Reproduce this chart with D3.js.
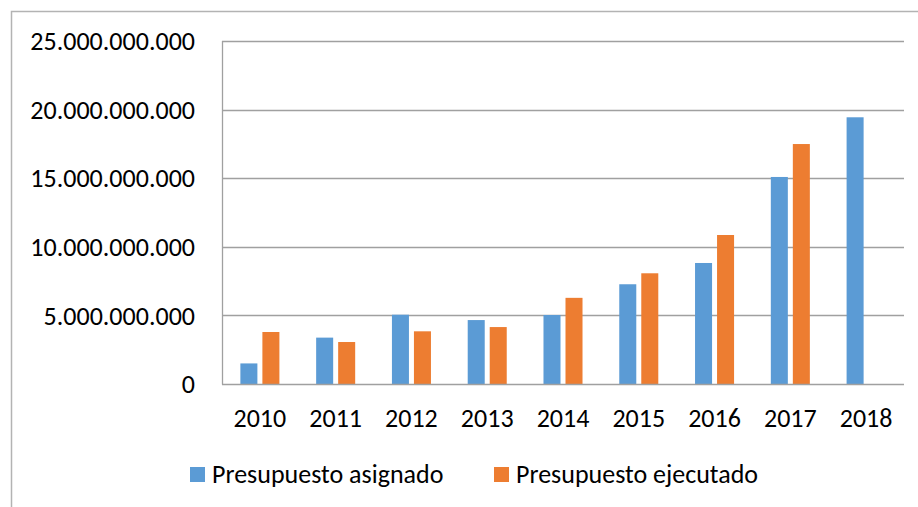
<!DOCTYPE html>
<html>
<head>
<meta charset="utf-8">
<script src="https://cdn.jsdelivr.net/npm/d3@7"></script>
<style>
  html, body { margin: 0; padding: 0; background: #fff; }
  svg { display: block; font-family: Carlito, Calibri, Lato, sans-serif; }
</style>
</head>
<body>
<svg id="chart" width="918" height="507"></svg>
<script>
'use strict';
// values
const years = ["2010", "2011", "2012", "2013", "2014", "2015", "2016", "2017", "2018"];
const asignado = [1.50e9, 3.38e9, 5.05e9, 4.66e9, 5.03e9, 7.27e9, 8.82e9, 15.09e9, 19.44e9];
const ejecutado = [3.79e9, 3.06e9, 3.84e9, 4.15e9, 6.28e9, 8.07e9, 10.86e9, 17.49e9, null];
const seriesNames = ["Presupuesto asignado", "Presupuesto ejecutado"];
const seriesColors = ["#5B9BD5", "#ED7D31"];
const yTicks = [0, 5e9, 10e9, 15e9, 20e9, 25e9];

(function () {
  const svg = d3.select("#chart");
  const plot = {left: 222, right: 904, top: 41, bottom: 384};
  const fontSize = 26;

  // outer chart frame (only top and left edges are visible in the picture)
  svg.append("path")
    .attr("d", "M11.5,507 L11.5,11.5 L918,11.5")
    .attr("fill", "none")
    .attr("stroke", "#B3B3B3")
    .attr("stroke-width", 1.5);

  const x = d3.scaleBand().domain(years).range([plot.left, plot.right]).padding(0);
  const y = d3.scaleLinear().domain([0, 25e9]).range([plot.bottom, plot.top]);

  const groupWidth = x.bandwidth() * 0.515;
  const x1 = d3.scaleBand()
    .domain(seriesNames)
    .range([(x.bandwidth() - groupWidth) / 2, (x.bandwidth() + groupWidth) / 2])
    .paddingInner(0.227);

  const locale = d3.formatLocale({decimal: ",", thousands: ".", grouping: [3], currency: ["", ""]});
  const fmt = locale.format(",.0f");

  // gridlines
  svg.append("g")
    .selectAll("line")
    .data(yTicks.filter(d => d > 0))
    .join("line")
    .attr("x1", plot.left)
    .attr("x2", plot.right)
    .attr("y1", d => Math.round(y(d)) + 0.5)
    .attr("y2", d => Math.round(y(d)) + 0.5)
    .attr("stroke", "#A0A0A0")
    .attr("stroke-width", 1.3);

  // y axis labels
  svg.append("g")
    .selectAll("text")
    .data(yTicks)
    .join("text")
    .attr("x", 195)
    .attr("y", d => y(d))
    .attr("dy", "0.35em")
    .attr("text-anchor", "end")
    .attr("font-size", fontSize)
    .attr("fill", "#000")
    .text(d => fmt(d));

  // bars
  const rows = years.map((yr, i) => ({year: yr, values: [asignado[i], ejecutado[i]]}));
  const groups = svg.append("g")
    .selectAll("g")
    .data(rows)
    .join("g")
    .attr("transform", d => `translate(${x(d.year)},0)`);

  groups.selectAll("rect")
    .data(d => d.values.map((v, j) => ({name: seriesNames[j], value: v, color: seriesColors[j]})).filter(d => d.value != null))
    .join("rect")
    .attr("x", d => x1(d.name))
    .attr("width", x1.bandwidth())
    .attr("y", d => y(d.value))
    .attr("height", d => y(0) - y(d.value))
    .attr("fill", d => d.color);

  // axis lines
  svg.append("line")
    .attr("x1", plot.left + 0.5).attr("x2", plot.left + 0.5)
    .attr("y1", plot.top).attr("y2", plot.bottom + 0.5)
    .attr("stroke", "#A0A0A0").attr("stroke-width", 1.3);
  svg.append("line")
    .attr("x1", plot.left).attr("x2", plot.right)
    .attr("y1", plot.bottom + 0.5).attr("y2", plot.bottom + 0.5)
    .attr("stroke", "#A0A0A0").attr("stroke-width", 1.3);

  // x axis labels
  svg.append("g")
    .selectAll("text")
    .data(years)
    .join("text")
    .attr("x", d => x(d) + x.bandwidth() / 2)
    .attr("y", 427)
    .attr("text-anchor", "middle")
    .attr("font-size", fontSize)
    .attr("fill", "#000")
    .text(d => d);

  // legend
  const legendX = [190, 494];
  const legend = svg.append("g")
    .selectAll("g")
    .data(seriesNames)
    .join("g")
    .attr("transform", (d, i) => `translate(${legendX[i]},467)`);
  legend.append("rect")
    .attr("width", 15)
    .attr("height", 15)
    .attr("fill", (d, i) => seriesColors[i]);
  legend.append("text")
    .attr("x", 22)
    .attr("y", 15.5)
    .attr("font-size", fontSize)
    .attr("fill", "#000")
    .text(d => d);
})();
</script>
</body>
</html>
